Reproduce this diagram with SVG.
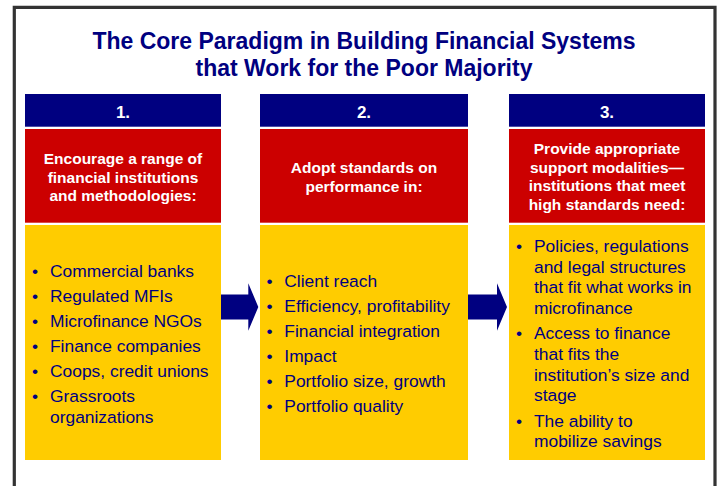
<svg xmlns="http://www.w3.org/2000/svg" width="720" height="486" viewBox="0 0 720 486">
  <style>
    .title { font-family: "Liberation Sans", Arial, sans-serif; font-weight: bold; font-size: 23px; fill: #000080; text-anchor: middle; }
    .num { font-family: "Liberation Sans", Arial, sans-serif; font-weight: bold; font-size: 17px; fill: #ffffff; text-anchor: middle; }
    .head { font-family: "Liberation Sans", Arial, sans-serif; font-weight: bold; font-size: 15.5px; fill: #ffffff; text-anchor: middle; }
    .item { font-family: "Liberation Sans", Arial, sans-serif; font-size: 17.4px; fill: #000080; }
    .blue { fill: #000080; }
    .red { fill: #cc0000; }
    .yellow { fill: #ffcc00; }
    .arrow { fill: #000080; }
  </style>

  <rect width="720" height="486" fill="#ffffff"/>
  <!-- frame open at the bottom -->
  <path d="M14.3,486 V7.3 H715 V486" fill="none" stroke="#333333" stroke-width="3.2"/>

  <g id="title">
    <text class="title" x="364" y="49">The Core Paradigm in Building Financial Systems</text>
    <text class="title" x="364" y="76">that Work for the Poor Majority</text>
  </g>

  <g id="column-1">
    <rect class="blue" x="25" y="94" width="196" height="32.7"/>
    <text class="num" x="123" y="117.5">1.</text>
    <rect class="red" x="25" y="129" width="196" height="93.7"/>
    <text class="head" x="123" y="164">Encourage a range of</text>
    <text class="head" x="123" y="182.6">financial institutions</text>
    <text class="head" x="123" y="201.2">and methodologies:</text>
    <rect class="yellow" x="25" y="225" width="196" height="235"/>
    <g class="item">
      <text x="32" y="276.7">•</text><text x="50" y="276.7">Commercial banks</text>
      <text x="32" y="301.7">•</text><text x="50" y="301.7">Regulated MFIs</text>
      <text x="32" y="326.7">•</text><text x="50" y="326.7">Microfinance NGOs</text>
      <text x="32" y="351.7">•</text><text x="50" y="351.7">Finance companies</text>
      <text x="32" y="376.7">•</text><text x="50" y="376.7">Coops, credit unions</text>
      <text x="32" y="401.7">•</text><text x="50" y="401.7">Grassroots</text>
      <text x="50" y="422.7">organizations</text>
    </g>
  </g>

  <g id="column-2">
    <rect class="blue" x="260" y="94" width="208" height="32.7"/>
    <text class="num" x="364" y="117.5">2.</text>
    <rect class="red" x="260" y="129" width="208" height="93.7"/>
    <text class="head" x="364" y="173">Adopt standards on</text>
    <text class="head" x="364" y="191.6">performance in:</text>
    <rect class="yellow" x="260" y="225" width="208" height="235"/>
    <g class="item">
      <text x="266.5" y="286.7">•</text><text x="284.3" y="286.7">Client reach</text>
      <text x="266.5" y="311.7">•</text><text x="284.3" y="311.7">Efficiency, profitability</text>
      <text x="266.5" y="336.7">•</text><text x="284.3" y="336.7">Financial integration</text>
      <text x="266.5" y="361.7">•</text><text x="284.3" y="361.7">Impact</text>
      <text x="266.5" y="386.7">•</text><text x="284.3" y="386.7">Portfolio size, growth</text>
      <text x="266.5" y="411.7">•</text><text x="284.3" y="411.7">Portfolio quality</text>
    </g>
  </g>

  <g id="column-3">
    <rect class="blue" x="509" y="94" width="196" height="32.7"/>
    <text class="num" x="607" y="117.5">3.</text>
    <rect class="red" x="509" y="129" width="196" height="93.7"/>
    <text class="head" x="607" y="154">Provide appropriate</text>
    <text class="head" x="607" y="172.7">support modalities—</text>
    <text class="head" x="607" y="191.4">institutions that meet</text>
    <text class="head" x="607" y="210.1">high standards need:</text>
    <rect class="yellow" x="509" y="225" width="196" height="235"/>
    <g class="item">
      <text x="516" y="251.7">•</text><text x="534" y="251.7">Policies, regulations</text>
      <text x="534" y="272.5">and legal structures</text>
      <text x="534" y="293.3">that fit what works in</text>
      <text x="534" y="314.1">microfinance</text>
      <text x="516" y="339">•</text><text x="534" y="339">Access to finance</text>
      <text x="534" y="359.8">that fits the</text>
      <text x="534" y="380.6">institution’s size and</text>
      <text x="534" y="401.4">stage</text>
      <text x="516" y="426.6">•</text><text x="534" y="426.6">The ability to</text>
      <text x="534" y="447.4">mobilize savings</text>
    </g>
  </g>

  <g id="connectors">
    <polygon class="arrow" points="221,294.5 248.3,294.5 248.3,283.3 258.3,307 248.3,330.7 248.3,319.5 221,319.5"/>
    <polygon class="arrow" points="468,294.5 497,294.5 497,283.3 507,307 497,330.7 497,319.5 468,319.5"/>
  </g>
</svg>
